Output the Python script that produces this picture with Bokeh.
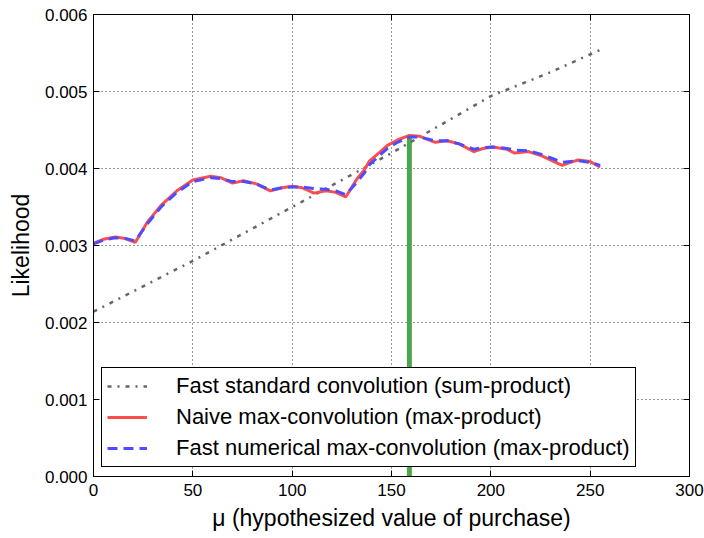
from bokeh.plotting import figure
from bokeh.models import (Range1d, FixedTicker, NumeralTickFormatter, LinearAxis,
                          Legend, LegendItem, ColumnDataSource)
from bokeh.embed import file_html
from bokeh.resources import INLINE

# ---- data ----
x_ticks = [0, 50, 100, 150, 200, 250, 300]
y_ticks = [0.000, 0.001, 0.002, 0.003, 0.004, 0.005, 0.006]

sum_x = [0, 50, 100, 150, 200, 230, 255]
sum_y = [0.00214, 0.00280, 0.00350, 0.00420, 0.00494, 0.00525, 0.00554]

naive_x = [0, 5, 11, 16, 21, 27, 34, 42, 50, 59, 64, 70, 75.5, 82, 89, 95, 100, 105,
           111, 117, 122, 127, 132.5, 136, 139, 144, 148, 153, 159, 164, 172, 178,
           184, 191.5, 196, 201, 208, 212, 219, 226, 231, 236, 240, 244, 250, 255]
naive_y = [0.00303, 0.00308, 0.00311, 0.00309, 0.00304, 0.00330, 0.00352, 0.00371,
           0.00385, 0.00390, 0.00388, 0.00381, 0.00384, 0.00380, 0.00371, 0.00375,
           0.00377, 0.00375, 0.00368, 0.00371, 0.00369, 0.00363, 0.00386, 0.00397,
           0.00410, 0.00421, 0.00430, 0.00437, 0.00443, 0.00442, 0.00434, 0.00436,
           0.00432, 0.00422, 0.00426, 0.00428, 0.00425, 0.00420, 0.00422, 0.00416,
           0.00410, 0.00404, 0.00408, 0.00411, 0.00409, 0.00402]

fast_x = naive_x
fast_y = [0.00302, 0.00307, 0.00310, 0.00309, 0.00306, 0.00328, 0.00350, 0.00369,
          0.00383, 0.00388, 0.00387, 0.00383, 0.00383, 0.00380, 0.00372, 0.00375,
          0.00376, 0.00376, 0.00374, 0.00373, 0.00371, 0.00366, 0.00382, 0.00393,
          0.00405, 0.00417, 0.00426, 0.00434, 0.00441, 0.00441, 0.00436, 0.00436,
          0.00432, 0.00425, 0.00427, 0.00428, 0.00426, 0.00424, 0.00423, 0.00418,
          0.00413, 0.00408, 0.00409, 0.00410, 0.00408, 0.00404]

peak_x = [159]
peak_y = [0.00442]
peak_base = [0.0]

labels = ["Fast standard convolution (sum-product)",
          "Naive max-convolution (max-product)",
          "Fast numerical max-convolution (max-product)"]

FONT = "Liberation Sans"

p = figure(width=704, height=538, output_backend="svg", toolbar_location=None,
           x_range=Range1d(0, 300), y_range=Range1d(0, 0.006),
           min_border_left=93, min_border_right=15, min_border_top=14,
           min_border_bottom=62)
p.background_fill_color = "white"
p.border_fill_color = "white"
p.outline_line_color = "black"
p.outline_line_width = 1
p.outline_line_alpha = 1

bottom_ax = p.below[0]
left_ax = p.left[0]

# axes
bottom_ax.ticker = FixedTicker(ticks=x_ticks)
left_ax.ticker = FixedTicker(ticks=y_ticks)
left_ax.formatter = NumeralTickFormatter(format="0.000")
bottom_ax.axis_label = "\u03bc (hypothesized value of purchase)"
left_ax.axis_label = "Likelihood"

top_ax = LinearAxis(ticker=FixedTicker(ticks=x_ticks))
right_ax = LinearAxis(ticker=FixedTicker(ticks=y_ticks))
p.add_layout(top_ax, "above")
p.add_layout(right_ax, "right")

for ax in [bottom_ax, left_ax, top_ax, right_ax]:
    ax.axis_line_color = "black"
    ax.axis_line_width = 1
    ax.major_tick_in = 6
    ax.major_tick_out = 0
    ax.major_tick_line_color = "black"
    ax.minor_tick_line_color = None
    ax.major_label_text_font = FONT
    ax.major_label_text_color = "black"
    ax.axis_label_text_font = FONT
    ax.axis_label_text_font_style = "normal"
    ax.axis_label_text_color = "black"

# top/right axes: ticks only, labels not drawn
for ax in [top_ax, right_ax]:
    ax.major_label_text_font_size = "1px"
    ax.major_label_text_color = None
    ax.major_label_standoff = 0

bottom_ax.major_label_text_font_size = "17px"
left_ax.major_label_text_font_size = "17px"
bottom_ax.axis_label_text_font_size = "23px"
left_ax.axis_label_text_font_size = "23px"
bottom_ax.major_label_standoff = 7
left_ax.major_label_standoff = 6
bottom_ax.axis_label_standoff = 6
left_ax.axis_label_standoff = 8

# grid
p.xgrid.ticker = FixedTicker(ticks=x_ticks)
p.ygrid.ticker = FixedTicker(ticks=y_ticks)
for g in [p.xgrid[0], p.ygrid[0]]:
    g.grid_line_color = "black"
    g.grid_line_dash = "1 3"
    g.grid_line_alpha = 0.8
    g.grid_line_width = 1

# marks
peak_src = ColumnDataSource(dict(x=peak_x, y0=peak_base, y1=peak_y))
p.segment(x0="x", y0="y0", x1="x", y1="y1", source=peak_src,
          line_color="#4da64d", line_width=5)

r_sum = p.line(sum_x, sum_y, line_color="#666666", line_width=2.5, line_dash="4 6 2 6")
r_naive = p.line(naive_x, naive_y, line_color="#ff4d4d", line_width=3)
r_fast = p.line(fast_x, fast_y, line_color="#4d4dff", line_width=3, line_dash="10 6")

legend = Legend(items=[LegendItem(label=labels[0], renderers=[r_sum]),
                       LegendItem(label=labels[1], renderers=[r_naive]),
                       LegendItem(label=labels[2], renderers=[r_fast])],
                location=(8, 9))
legend.border_line_color = "black"
legend.border_line_width = 1
legend.border_line_alpha = 1
legend.background_fill_color = "white"
legend.background_fill_alpha = 1
legend.label_text_font = FONT
legend.label_text_font_size = "22px"
legend.label_text_color = "black"
legend.glyph_width = 40
legend.glyph_height = 22
legend.label_height = 22
legend.spacing = 5
legend.padding = 5
legend.label_standoff = 29
legend.margin = 0
p.add_layout(legend)

open("out.html", "w").write(file_html(p, INLINE))
